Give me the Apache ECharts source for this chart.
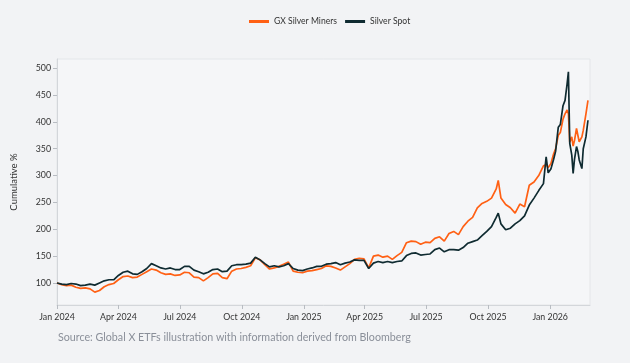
<!DOCTYPE html>
<html>
<head>
<meta charset="utf-8">
<script src="https://cdn.jsdelivr.net/npm/echarts@6/dist/echarts.min.js"></script>
<style>
html,body{margin:0;padding:0;background:#f2f3f5;}
#c{width:630px;height:363px;}
</style>
</head>
<body>
<div id="c"></div>
<script>
const dates = [
"2024-01-01","2024-01-08","2024-01-15","2024-01-22","2024-01-29","2024-02-05","2024-02-12","2024-02-19","2024-02-26",
"2024-03-04","2024-03-11","2024-03-18","2024-03-25","2024-04-01","2024-04-08","2024-04-15","2024-04-22","2024-04-29",
"2024-05-06","2024-05-13","2024-05-20","2024-05-27","2024-06-03","2024-06-10","2024-06-17","2024-06-24","2024-07-01",
"2024-07-08","2024-07-15","2024-07-22","2024-07-29","2024-08-05","2024-08-12","2024-08-19","2024-08-26","2024-09-02",
"2024-09-09","2024-09-16","2024-09-23","2024-09-30","2024-10-07","2024-10-14","2024-10-21","2024-10-28","2024-11-04",
"2024-11-11","2024-11-18","2024-11-25","2024-12-02","2024-12-09","2024-12-16","2024-12-23","2024-12-30",
"2025-01-06","2025-01-13","2025-01-20","2025-01-27","2025-02-03","2025-02-10","2025-02-17","2025-02-24","2025-03-03",
"2025-03-10","2025-03-17","2025-03-24","2025-03-31","2025-04-07","2025-04-14","2025-04-21","2025-04-28","2025-05-05",
"2025-05-12","2025-05-19","2025-05-26","2025-06-02","2025-06-09","2025-06-16","2025-06-23","2025-06-30","2025-07-07",
"2025-07-14","2025-07-21","2025-07-28","2025-08-04","2025-08-11","2025-08-18","2025-08-25","2025-09-01","2025-09-08",
"2025-09-15","2025-09-22","2025-09-29","2025-10-06","2025-10-13","2025-10-16","2025-10-20","2025-10-27","2025-11-03",
"2025-11-10","2025-11-17","2025-11-24","2025-12-01","2025-12-08","2025-12-15","2025-12-22","2025-12-26","2025-12-29",
"2026-01-02","2026-01-06","2026-01-09","2026-01-13","2026-01-16","2026-01-20","2026-01-23","2026-01-26","2026-01-28",
"2026-01-30","2026-02-02","2026-02-04","2026-02-06","2026-02-09","2026-02-11","2026-02-13","2026-02-17","2026-02-19",
"2026-02-23","2026-02-26"
];
const minersValues = [
100,97,95,96,92,90,91,89,83,
86,93,97,99,106,112,113,110,111,
116,121,126,124,119,116,117,114,115,
120,119,111,110,104,110,117,118,110,
108,122,126,127,129,132,147,143,134,
126,128,131,135,139,122,120,119,
122,123,125,127,132,131,128,124,130,
136,144,146,145,128,150,152,148,150,
144,151,157,175,178,177,172,176,175,
183,186,178,192,196,190,205,215,222,
240,248,252,258,275,291,258,246,240,
230,247,242,282,288,300,318,320,315,
322,340,350,375,380,405,415,422,415,
362,372,355,365,388,375,363,372,384,
415,440
];
const spotValues = [
100,98,97,99,98,95,96,98,96,
100,104,106,106,114,120,122,117,116,
121,127,136,132,128,126,128,125,125,
131,131,124,121,117,120,125,126,121,
122,132,134,134,135,137,148,143,136,
130,132,130,132,136,127,124,123,
126,128,131,131,135,136,138,134,137,
139,143,142,142,127,137,140,138,140,
138,140,141,151,155,156,152,153,154,
162,165,158,162,162,161,166,174,177,
180,188,196,205,222,230,210,199,202,
210,216,225,245,258,272,285,335,305,
312,330,345,390,395,430,440,470,493,
360,338,304,330,354,345,329,313,350,
372,403
];
const yTicks = [100,150,200,250,300,350,400,450,500];
const xTicks = ["2024-01-01","2024-04-01","2024-07-01","2024-10-01","2025-01-01","2025-04-01","2025-07-01","2025-10-01","2026-01-01"];
const monthNames = ["Jan","Feb","Mar","Apr","May","Jun","Jul","Aug","Sep","Oct","Nov","Dec"];

const font = "Lato";
const ts = d => new Date(d + "T00:00:00Z").getTime();
const chart = echarts.init(document.getElementById('c'), null, {renderer:'canvas'});
const xTickVals = xTicks.map(ts);
chart.setOption({
  backgroundColor:'#f2f3f5',
  animation:false,
  textStyle:{fontFamily:font},
  legend:{
    top:12, left:244,
    icon:'rect', itemWidth:20, itemHeight:3, itemGap:8, itemStyle:{borderWidth:0},
    textStyle:{fontSize:8.6,color:'#333',fontFamily:font},
    data:['GX Silver Miners','Silver Spot']
  },
  grid:{left:57,right:40,top:59,bottom:58,show:true,backgroundColor:'#f5f6f8',borderColor:'#e4e6e9',borderWidth:1},
  xAxis:{
    type:'value',
    min:ts("2024-01-01"),
    max:ts("2026-03-01"),
    axisLine:{show:true,lineStyle:{color:'#d3d6da'}},
    axisTick:{show:true,length:4,lineStyle:{color:'#b8bcc2'},customValues:xTickVals},
    axisLabel:{customValues:xTickVals,fontSize:8.8,color:'#333',margin:8,fontFamily:font,
      formatter:function(v){const d=new Date(v);return monthNames[d.getUTCMonth()]+' '+d.getUTCFullYear();}},
    splitLine:{show:false}
  },
  yAxis:{
    type:'value',min:59,max:517,
    name:'Cumulative %',nameLocation:'middle',nameGap:38,nameRotate:90,
    nameTextStyle:{fontSize:9.5,color:'#333',fontFamily:font},
    axisLine:{show:true,lineStyle:{color:'#d3d6da'}},
    axisTick:{show:true,length:4,lineStyle:{color:'#b8bcc2'},customValues:yTicks},
    axisLabel:{customValues:yTicks,fontSize:8.8,color:'#333',margin:6,fontFamily:font},
    splitLine:{show:false}
  },
  series:[
    {name:'GX Silver Miners',type:'line',showSymbol:false,color:'#ff6014',
      lineStyle:{width:1.7,color:'#ff6014'},
      data:dates.map((d,i)=>[ts(d),minersValues[i]])},
    {name:'Silver Spot',type:'line',showSymbol:false,color:'#0f2b31',
      lineStyle:{width:1.7,color:'#0f2b31'},
      data:dates.map((d,i)=>[ts(d),spotValues[i]])}
  ],
  graphic:[{type:'text',left:58,top:332,style:{text:'Source: Global X ETFs illustration with information derived from Bloomberg',fontSize:10.7,fill:'#8a8f99',fontFamily:font}}]
});
</script>
</body>
</html>
